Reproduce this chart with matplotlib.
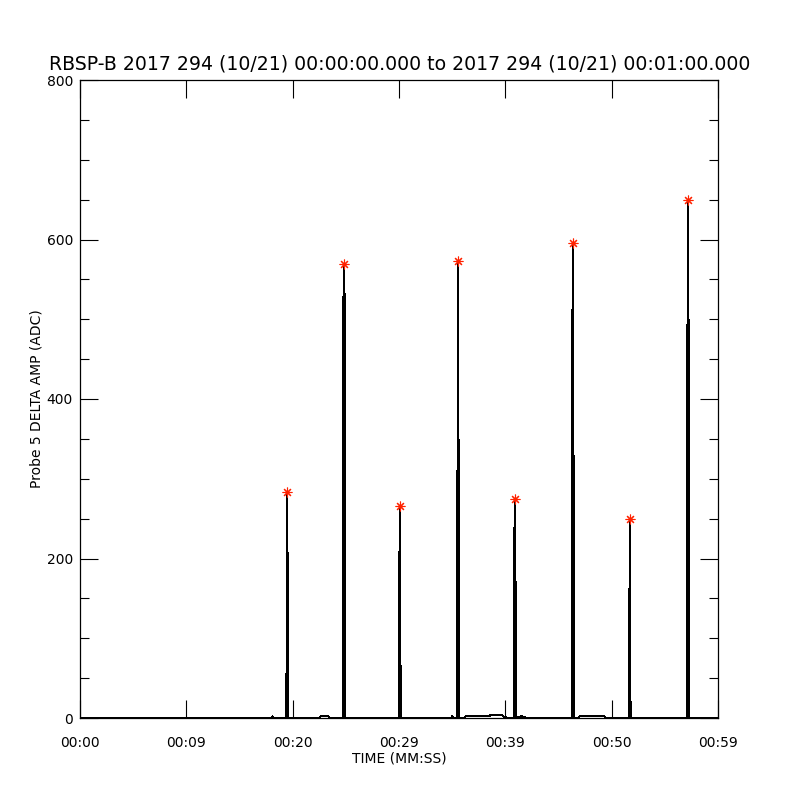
import matplotlib
matplotlib.use("Agg")
import matplotlib.pyplot as plt
from matplotlib.ticker import MultipleLocator

# Config
TITLE = "RBSP-B 2017 294 (10/21) 00:00:00.000 to 2017 294 (10/21) 00:01:00.000"
X_TICKS = [0, 10, 20, 30, 40, 50, 60]
X_LABELS = ["00:00", "00:09", "00:20", "00:29", "00:39", "00:50", "00:59"]

# Probe 5 delta amplitude samples (seconds, ADC)
TIME = [0.0, 18.0, 18.1, 18.2,
        19.37, 19.37, 19.42, 19.42, 19.47, 19.52, 19.52, 19.57, 19.57, 19.7,
        22.5, 22.6, 23.4, 23.5,
        24.73, 24.73, 24.78, 24.78, 24.83, 24.88, 24.88, 24.93, 24.93, 25.1,
        29.99, 29.99, 30.04, 30.04, 30.09, 30.14, 30.14, 30.19, 30.19, 30.4,
        34.9, 35.0, 35.1,
        35.45, 35.45, 35.5, 35.5, 35.55, 35.6, 35.6, 35.65, 35.65,
        36.2, 36.3, 37.5, 37.6, 38.5, 38.6, 39.7, 39.8, 40.3,
        40.8, 40.8, 40.85, 40.85, 40.9, 40.95, 40.95, 41.0, 41.0,
        41.5, 41.6, 42.0,
        46.26, 46.26, 46.31, 46.31, 46.36, 46.41, 46.41, 46.46, 46.46,
        46.9, 47.0, 48.4, 48.5, 49.3, 49.4,
        51.62, 51.62, 51.67, 51.67, 51.72, 51.77, 51.77, 51.82, 51.82,
        57.08, 57.08, 57.13, 57.13, 57.18, 57.23, 57.23, 57.28, 57.28, 60.0]
AMP = [0, 0, 2, 0,
       0, 55, 55, 198, 284, 198, 55, 55, 0, 0,
       0, 2, 2, 0,
       0, 315, 315, 528, 569, 528, 315, 315, 0, 0,
       0, 65, 65, 200, 266, 200, 65, 65, 0, 0,
       0, 2, 0,
       0, 16, 16, 303, 573, 330, 16, 16, 0,
       0, 3, 3, 2, 2, 4, 4, 2, 0,
       0, 170, 170, 228, 274, 228, 170, 170, 0,
       2, 2, 0,
       0, 328, 328, 500, 595, 500, 328, 328, 0,
       0, 3, 3, 2, 2, 0,
       0, 20, 20, 148, 250, 148, 20, 20, 0,
       0, 160, 160, 487, 650, 487, 55, 55, 0, 0]

PEAK_T = [19.47, 24.83, 30.09, 35.55, 40.9, 46.36, 51.72, 57.18]
PEAK_V = [284, 569, 266, 573, 274, 595, 250, 650]

fig = plt.figure(figsize=(8, 8), dpi=100)
ax = fig.add_axes([0.1, 0.1025, 0.7975, 0.7975])

ax.plot(TIME, AMP, color="black", linewidth=0.72, antialiased=False)
# red asterisks on each peak
ax.plot(PEAK_T, PEAK_V, linestyle="none", marker=(8, 2, 0), color="#ff2200",
        markersize=7, markeredgewidth=0.8)

ax.set_xlim(0, 60)
ax.set_ylim(0, 800)
ax.set_xticks(X_TICKS)
ax.set_xticklabels(X_LABELS)
ax.set_yticks([0, 200, 400, 600, 800])
ax.yaxis.set_minor_locator(MultipleLocator(50))

ax.tick_params(axis="both", which="major", direction="in", length=13, width=0.8,
               top=True, right=True, labelsize=10)
ax.tick_params(axis="x", which="major", pad=13)
ax.tick_params(axis="y", which="major", pad=5)
ax.tick_params(axis="y", which="minor", direction="in", length=6.5, width=0.8, right=True)
for s in ax.spines.values():
    s.set_linewidth(0.9)

ax.set_xlabel("TIME (MM:SS)", fontsize=10, labelpad=1)
ax.set_ylabel("Probe 5 DELTA AMP (ADC)", fontsize=10, labelpad=2)
fig.text(0.5, 0.92, TITLE, ha="center", va="center", fontsize=13.6)

fig.savefig("out.png", dpi=100, facecolor="white")
